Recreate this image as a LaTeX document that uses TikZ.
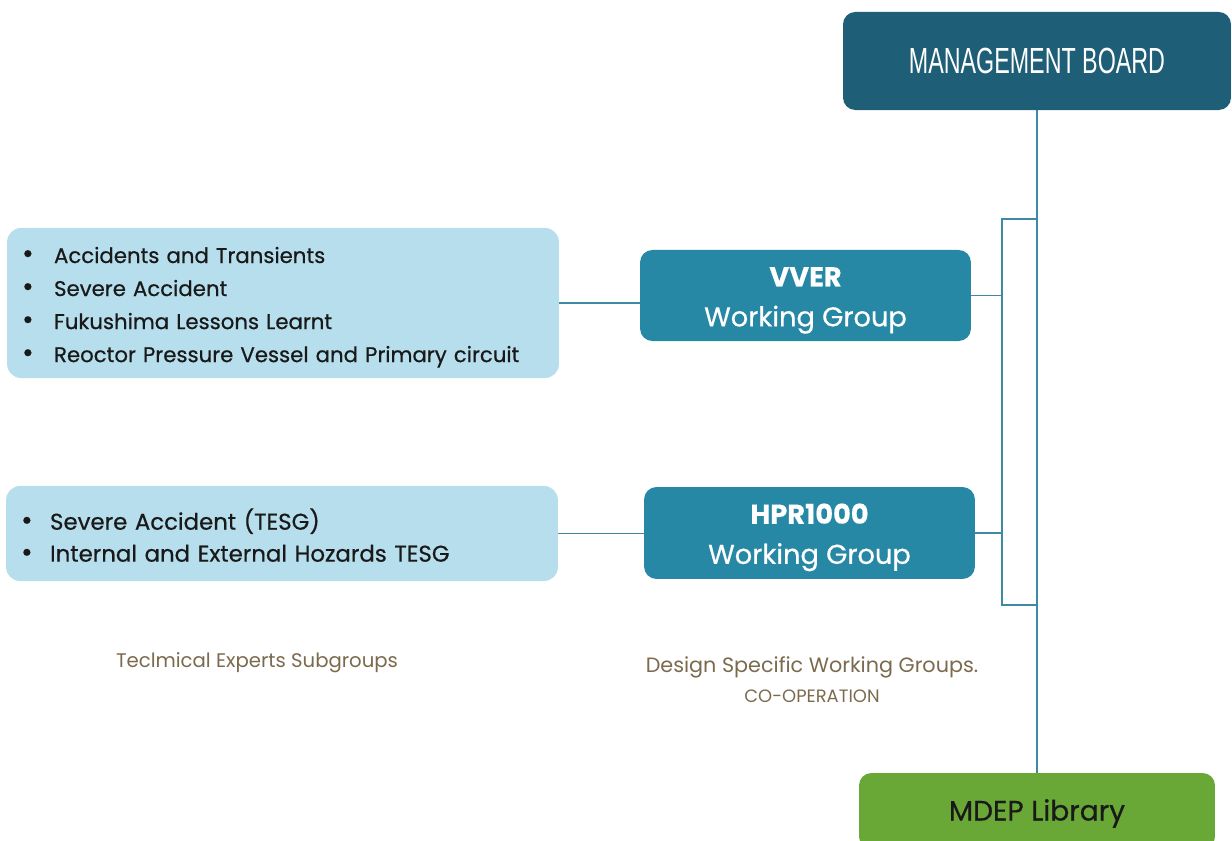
\documentclass[tikz,border=0pt]{standalone}
\usepackage{fontspec}
\setmainfont{Poppins}
\newfontfamily\boxfont[FakeBold=0.5]{Poppins}
\newfontfamily\boardfont[FakeStretch=0.64]{Liberation Sans}
\definecolor{boardteal}{HTML}{1E5E77}
\definecolor{groupteal}{HTML}{2688A5}
\definecolor{topicblue}{HTML}{B6DEEC}
\definecolor{libgreen}{HTML}{69A737}
\definecolor{linkteal}{HTML}{4089A5}
\definecolor{captionbrown}{HTML}{7B6A4E}
\tikzset{
  every node/.style={inner sep=0pt},
  boardbox/.style={fill=boardteal, rounded corners=7pt, text=white,
    minimum width=220.8pt, minimum height=55.8pt,
    font=\boardfont\fontsize{20.7}{24}\selectfont},
  groupbox/.style={fill=groupteal, rounded corners=7pt, text=white, align=center,
    minimum width=188.3pt, minimum height=51.8pt,
    font=\boxfont\fontsize{15.5}{22.8}\selectfont},
  topicbox/.style={fill=topicblue, rounded corners=8pt, text=black!90, align=left,
    minimum width=314.1pt, text width=297pt,
    font=\boxfont\fontsize{12.1}{18.8}\selectfont},
  librarybox/.style={fill=libgreen, rounded corners=7pt, text=black!90,
    minimum width=202.6pt, minimum height=43.2pt,
    font=\boxfont\fontsize{16}{18}\selectfont},
  caption/.style={text=captionbrown, align=center},
  link/.style={draw=linkteal, line width=1.1pt}
}
\newcommand{\topicitem}[1][18.2pt]{\makebox[#1][l]{\fontsize{16}{16}\selectfont\textbullet}}
\newcommand{\wgtop}{\rule{0pt}{16.5pt}}

\begin{document}
\begin{tikzpicture}[x=0.02cm, y=-0.02cm]
\useasboundingbox (0,0) rectangle (1232,841);
\clip (0,0) rectangle (1232,841);

\node (board)   [boardbox]   at (1037,61)    {MANAGEMENT BOARD};
\node (vver)    [groupbox]   at (805.5,295.5) {\wgtop\textbf{VVER}\\Working Group};
\node (hpr)     [groupbox, minimum height=52.3pt] at (809.5,533) {\wgtop\textbf{HPR1000}\\Working Group};
\node (library) [librarybox] at (1037,811)   {\rule{0pt}{15pt}MDEP Library};

\node (vvertopics) [topicbox, minimum height=85.4pt] at (283,303)
  {\rule{0pt}{14pt}\topicitem Accidents and Transients\\
   \topicitem Severe Accident\\
   \topicitem Fukushima Lessons Learnt\\
   \topicitem Reoctor Pressure Vessel and Primary circuit};
\node (hprtopics)  [topicbox, minimum height=54.1pt, font=\boxfont\fontsize{13}{18.2}\selectfont] at (282,533.5)
  {\rule{0pt}{14pt}\topicitem[16.5pt]Severe Accident (TESG)\\
   \topicitem[16.5pt]Internal and External Hozards TESG};

\node (tesgcaption) [caption, font=\fontsize{11.2}{13}\selectfont] at (257,663) {Teclmical Experts Subgroups};
\node (dswgcaption) [caption, font=\fontsize{11.8}{13}\selectfont] at (812,667) {Design Specific Working Groups.};
\node (coopcaption) [caption, font=\fontsize{10.2}{12}\selectfont] at (812,696) {CO-OPERATION};

% bracket joining the working groups to the main line
\coordinate (bracketNE) at (1037,219);
\coordinate (bracketNW) at (1002,219);
\coordinate (bracketSW) at (1002,605);
\coordinate (bracketSE) at (1037,605);

\draw [link] (board.south) -- (library.north);
\draw [link] (bracketNE) -- (bracketNW) -- (bracketSW) -- (bracketSE);
\draw [link] (vver.east) -- (vver.east -| bracketNW);
\draw [link] (hpr.east)  -- (hpr.east -| bracketNW);
\draw [link] (vvertopics.east) -- (vvertopics.east -| vver.west);
\draw [link] (hprtopics.east)  -- (hprtopics.east -| hpr.west);

\end{tikzpicture}
\end{document}
